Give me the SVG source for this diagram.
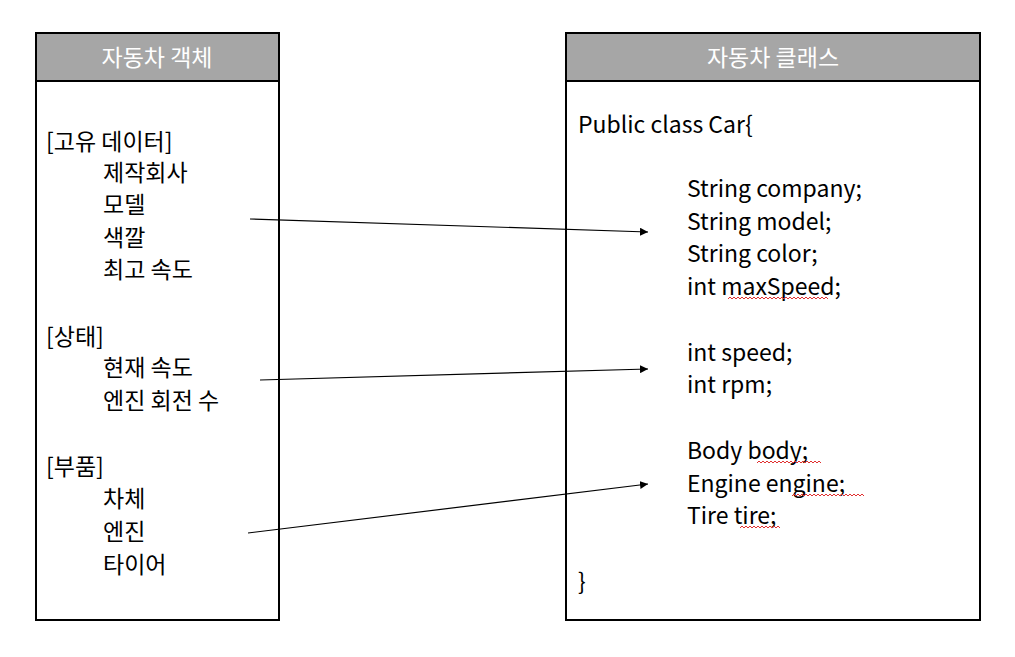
<svg xmlns="http://www.w3.org/2000/svg" width="1015" height="657" viewBox="0 0 1015 657">
<defs>
<style>
text{font-family:"Noto Sans CJK KR","Noto Sans",sans-serif;font-size:23px;fill:#000}
.hd{fill:#fff;text-anchor:middle}
.box{fill:#fff;stroke:#000;stroke-width:2}
.hdr{fill:#a6a6a6;stroke:#000;stroke-width:2}
.con{stroke:#000;stroke-width:1.2;fill:none;marker-end:url(#ah)}
.sq{stroke:#e03030;stroke-width:1;fill:none}
</style>
<marker id="ah" viewBox="0 0 10 10" refX="10" refY="5" markerWidth="8" markerHeight="8" markerUnits="userSpaceOnUse" orient="auto"><path d="M0,0L10,5L0,10z" fill="#000"/></marker>
</defs>
<rect width="1015" height="657" fill="#fff"/>
<g id="car-object">
<rect class="box" x="36" y="33" width="243" height="587"/>
<rect class="hdr" x="36" y="33" width="243" height="48"/>
<text class="hd" x="157" y="66">자동차 객체</text>
<text x="46" y="150">[고유 데이터]</text>
<text x="103" y="181">제작회사</text>
<text x="103" y="213">모델</text>
<text x="103" y="246">색깔</text>
<text x="103" y="278">최고 속도</text>
<text x="46" y="345">[상태]</text>
<text x="103" y="376">현재 속도</text>
<text x="103" y="409">엔진 회전 수</text>
<text x="46" y="475">[부품]</text>
<text x="103" y="507">차체</text>
<text x="103" y="540">엔진</text>
<text x="103" y="573">타이어</text>
</g>
<g id="car-class">
<rect class="box" x="566" y="33" width="414" height="587"/>
<rect class="hdr" x="566" y="33" width="414" height="48"/>
<text class="hd" x="773" y="66">자동차 클래스</text>
<text x="578" y="133">Public class Car{</text>
<text x="687" y="197">String company;</text>
<text x="687" y="230">String model;</text>
<text x="687" y="262">String color;</text>
<text x="687" y="295">int maxSpeed;</text>
<text x="687" y="361">int speed;</text>
<text x="687" y="393">int rpm;</text>
<text x="687" y="459">Body body;</text>
<text x="687" y="492">Engine engine;</text>
<text x="687" y="524">Tire tire;</text>
<text x="578" y="590">}</text>
<path class="sq" d="M728,299 l2,-2 2,2 2,-2 2,2 2,-2 2,2 2,-2 2,2 2,-2 2,2 2,-2 2,2 2,-2 2,2 2,-2 2,2 2,-2 2,2 2,-2 2,2 2,-2 2,2 2,-2 2,2 2,-2 2,2 2,-2 2,2 2,-2 2,2 2,-2 2,2 2,-2 2,2 2,-2 2,2 2,-2 2,2 2,-2 2,2 2,-2 2,2 2,-2 2,2 2,-2 2,2 2,-2 2,2 2,-2 2,2"/>
<path class="sq" d="M757,463 l2,-2 2,2 2,-2 2,2 2,-2 2,2 2,-2 2,2 2,-2 2,2 2,-2 2,2 2,-2 2,2 2,-2 2,2 2,-2 2,2 2,-2 2,2 2,-2 2,2 2,-2 2,2 2,-2 2,2 2,-2 2,2 2,-2 2,2 2,-2 2,2"/>
<path class="sq" d="M792,496 l2,-2 2,2 2,-2 2,2 2,-2 2,2 2,-2 2,2 2,-2 2,2 2,-2 2,2 2,-2 2,2 2,-2 2,2 2,-2 2,2 2,-2 2,2 2,-2 2,2 2,-2 2,2 2,-2 2,2 2,-2 2,2 2,-2 2,2 2,-2 2,2 2,-2 2,2 2,-2 2,2"/>
<path class="sq" d="M740,528 l2,-2 2,2 2,-2 2,2 2,-2 2,2 2,-2 2,2 2,-2 2,2 2,-2 2,2 2,-2 2,2 2,-2 2,2 2,-2 2,2 2,-2 2,2"/>
</g>
<g id="connectors">
<line class="con" x1="250" y1="219" x2="648" y2="232"/>
<line class="con" x1="260" y1="380" x2="648" y2="369"/>
<line class="con" x1="248" y1="533" x2="648" y2="484"/>
</g>
</svg>
